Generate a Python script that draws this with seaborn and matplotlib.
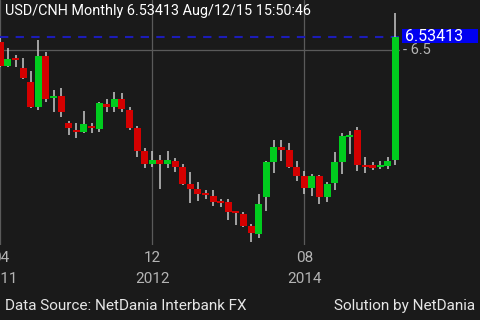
import numpy as np
import pandas as pd
import matplotlib
matplotlib.use("Agg")
import matplotlib.pyplot as plt
import seaborn as sns
from matplotlib.transforms import blended_transform_factory
from matplotlib.patches import Rectangle

# ---- data (monthly USD/CNH, Apr 2011 .. Aug 2015) ----
opens = [6.5205, 6.4590, 6.4782, 6.4546, 6.4187, 6.3538, 6.4846, 6.3790, 6.3813, 6.3136,
         6.2936, 6.2905, 6.3038, 6.2967, 6.3615, 6.3538, 6.3744, 6.3462, 6.2992, 6.2418,
         6.2069, 6.2179, 6.2077, 6.2154, 6.2008, 6.1564, 6.1428, 6.1333, 6.1269, 6.1141,
         6.1110, 6.0872, 6.0795, 6.0487, 6.0282, 6.1223, 6.2136, 6.2505, 6.2436, 6.2008,
         6.1777, 6.1454, 6.1777, 6.1238, 6.1582, 6.2136, 6.2762, 6.2949, 6.2038, 6.2051,
         6.2013, 6.2033, 6.2179]
highs = [6.5308, 6.5051, 6.4872, 6.4795, 6.4449, 6.5256, 6.4956, 6.3974, 6.4018, 6.3179,
         6.3128, 6.3436, 6.3128, 6.3654, 6.3756, 6.3923, 6.3885, 6.3546, 6.3059, 6.2479,
         6.2410, 6.2308, 6.2410, 6.2231, 6.2069, 6.1879, 6.1615, 6.1410, 6.1410, 6.1167,
         6.1172, 6.0879, 6.0854, 6.0538, 6.1300, 6.2154, 6.2692, 6.2692, 6.2608, 6.2162,
         6.1885, 6.1821, 6.1795, 6.1628, 6.2372, 6.2879, 6.2915, 6.3013, 6.2264, 6.2136,
         6.2162, 6.2264, 6.5941]
lows = [6.4564, 6.4564, 6.4564, 6.4256, 6.3513, 6.3462, 6.3674, 6.3410, 6.3290, 6.2808,
        6.2744, 6.2872, 6.2872, 6.2905, 6.3410, 6.3418, 6.3418, 6.2949, 6.2249, 6.1982,
        6.2008, 6.1436, 6.1974, 6.1864, 6.1538, 6.1069, 6.1136, 6.1187, 6.1000, 6.0974,
        6.0649, 6.0513, 6.0454, 6.0085, 6.0172, 6.0879, 6.1838, 6.2149, 6.1974, 6.1649,
        6.1308, 6.1264, 6.1044, 6.1110, 6.1410, 6.1828, 6.2326, 6.1903, 6.1838, 6.1915,
        6.1941, 6.1941, 6.2051]
closes = [6.4590, 6.4769, 6.4756, 6.4290, 6.3538, 6.4846, 6.3736, 6.3808, 6.3418, 6.2992,
          6.2923, 6.3103, 6.3013, 6.3633, 6.3538, 6.3744, 6.3487, 6.3008, 6.2418, 6.2069,
          6.2179, 6.2077, 6.2179, 6.2008, 6.1564, 6.1436, 6.1315, 6.1274, 6.1103, 6.1085,
          6.0854, 6.0821, 6.0487, 6.0300, 6.1051, 6.2136, 6.2505, 6.2436, 6.2008, 6.1777,
          6.1454, 6.1777, 6.1238, 6.1556, 6.2136, 6.2795, 6.2821, 6.2044, 6.2013, 6.1967,
          6.2033, 6.2162, 6.53413]

tick_pos = [0, 20, 40]
tick_month = ["04", "12", "08"]
tick_year = ["2011", "2012", "2014"]
grid_price = [6.5]
grid_label = ["- 6.5"]
last_label = "6.53413"
title = "USD/CNH Monthly 6.53413 Aug/12/15 15:50:46"
footer_left = "Data Source: NetDania Interbank FX"
footer_right = "Solution by NetDania"

# ---- style ----
BG = "#1a1a1a"
GREEN = "#00cc1e"
RED = "#d40000"
WICK = "#c8c8c8"
GRID = "#5a5a5a"
TXT = "#b4b4b4"

sns.set_theme(style="dark", rc={"axes.facecolor": BG, "figure.facecolor": BG})
plt.rcParams['font.family'] = ['Roboto', 'DejaVu Sans']

df = pd.DataFrame({"open": opens, "high": highs, "low": lows, "close": closes})
df["i"] = np.arange(len(df))

W, H = 480, 320
fig = plt.figure(figsize=(4.8, 3.2), dpi=100, facecolor=BG)
ax = fig.add_axes([0, 75 / H, 400 / W, 245 / H])
ax.set_facecolor(BG)
ax.set_xlim(-0.05, 52.6)
ax.set_ylim(6.0, 6.6282)
for s in ax.spines.values():
    s.set_visible(False)
ax.set_xticks([])
ax.set_yticks([])
ax.grid(False)

# grid
for p in tick_pos:
    ax.axvline(p, color=GRID, lw=0.9, zorder=1)
for g in grid_price:
    ax.axhline(g, color=GRID, lw=0.9, zorder=1)

# last price dashed line
ax.axhline(closes[-1], color="#1c1cb8", lw=1.5, dashes=(4, 3.5), zorder=1.5)

# candles
up = df["close"] >= df["open"]
colors = np.where(up, GREEN, RED)
ax.vlines(df["i"], df["low"], df["high"], color=WICK, lw=1.1, zorder=2)
mid = (df["open"] + df["close"]) / 2
hgt = np.maximum((df["close"] - df["open"]).abs(), 0.0045)
ax.bar(df["i"], hgt, bottom=mid - hgt / 2, width=0.92, color=colors, linewidth=0, zorder=3)

# x tick labels (the first one is cut by the left edge, as in the reference)
btf = blended_transform_factory(ax.transData, fig.transFigure)
for p, m, y in zip(tick_pos, tick_month, tick_year):
    ax.text(p, 1 - 262.5 / H, m, transform=btf, ha="center", va="baseline",
            color=TXT, fontsize=11, clip_on=False)
    ax.text(p, 1 - 283 / H, y, transform=btf, ha="center", va="baseline",
            color=TXT, fontsize=11, clip_on=False)

# y labels
ytf = blended_transform_factory(fig.transFigure, ax.transData)
for g, lab in zip(grid_price, grid_label):
    ax.text(403 / W, g, lab, transform=ytf, ha="left", va="center",
            color=TXT, fontsize=10.5, clip_on=False)

box_h = 14 / 390
ax.add_patch(Rectangle((401.7 / W, closes[-1] - box_h / 2 + 0.001), 76.6 / W, box_h,
                       transform=ytf, facecolor="#0000f0", edgecolor="none",
                       clip_on=False, zorder=5))
ax.text(404.5 / W, closes[-1] + 0.001, last_label, transform=ytf, ha="left", va="center",
        color="white", fontsize=11.5, clip_on=False, zorder=6)

# title & footer
fig.text(5 / W, 1 - 15 / H, title, color="white", fontsize=10.4, ha="left", va="baseline")
fig.text(5 / W, 1 - 310 / H, footer_left, color="#e6e6e6", fontsize=11, ha="left", va="baseline")
fig.text(475 / W, 1 - 310 / H, footer_right, color="#e6e6e6", fontsize=11, ha="right", va="baseline")

fig.savefig("out.png", dpi=100, facecolor=BG)
